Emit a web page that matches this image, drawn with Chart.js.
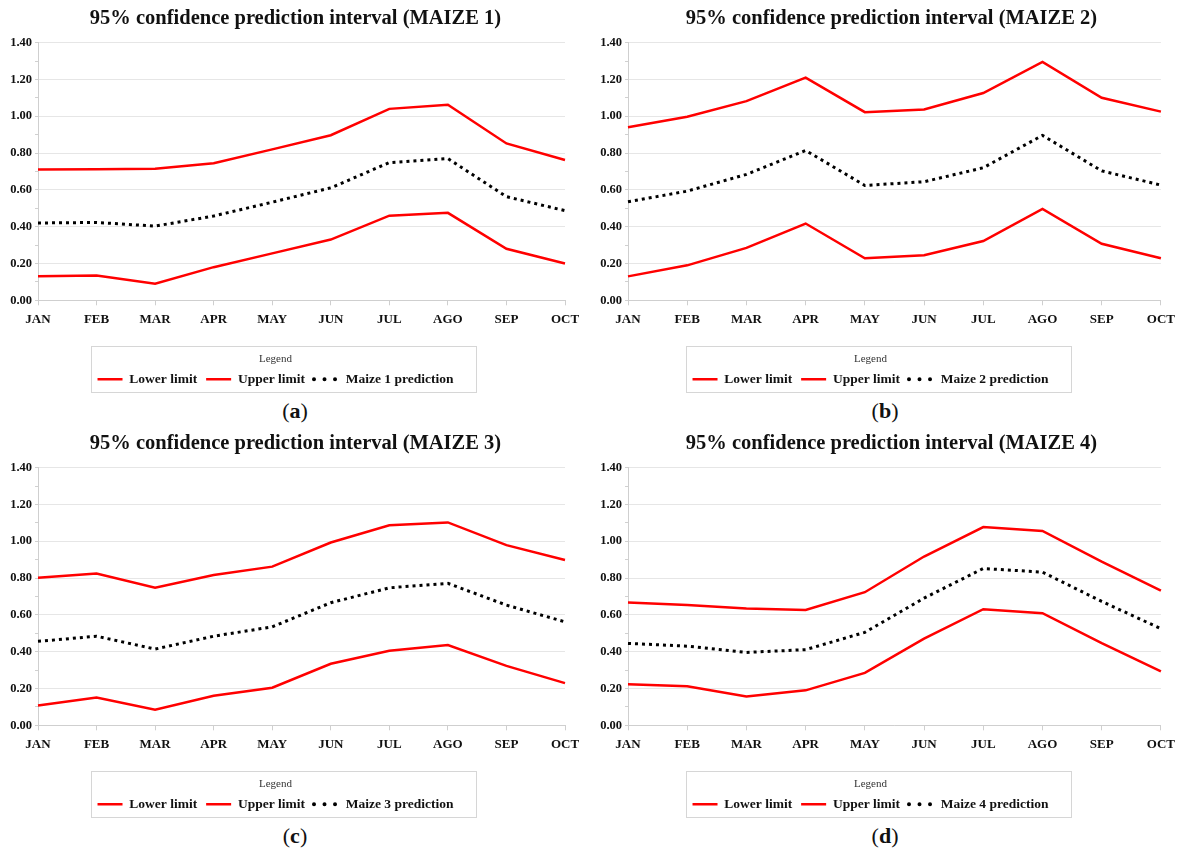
<!DOCTYPE html>
<html>
<head>
<meta charset="utf-8">
<script src="https://cdn.jsdelivr.net/npm/chart.js@4.4.1/dist/chart.umd.min.js"></script>
<style>
  html, body { margin: 0; padding: 0; background: #ffffff; }
  #page { position: relative; width: 1182px; height: 853px; overflow: hidden; }
  .panel { position: absolute; }
  .caption {
    position: absolute; width: 40px; text-align: center;
    font-family: "Liberation Serif", serif; font-size: 22px; color: #111;
  }
  .caption b { font-weight: bold; }
</style>
</head>
<body>
<div id="page">
  <div class="panel" style="left:0px;top:0px;width:591px;height:396px;"><canvas id="c1"></canvas></div>
  <div class="panel" style="left:590px;top:0px;width:592px;height:396px;"><canvas id="c2"></canvas></div>
  <div class="panel" style="left:0px;top:425px;width:591px;height:396px;"><canvas id="c3"></canvas></div>
  <div class="panel" style="left:590px;top:425px;width:592px;height:396px;"><canvas id="c4"></canvas></div>
  <div class="caption" style="left:275px;top:398px;">(<b>a</b>)</div>
  <div class="caption" style="left:865px;top:398px;">(<b>b</b>)</div>
  <div class="caption" style="left:275px;top:823px;">(<b>c</b>)</div>
  <div class="caption" style="left:865px;top:823px;">(<b>d</b>)</div>
</div>
<script>
// Months on the x axis
const months = ['JAN', 'FEB', 'MAR', 'APR', 'MAY', 'JUN', 'JUL', 'AGO', 'SEP', 'OCT'];

// MAIZE 1
const maize1Lower = [0.13, 0.135, 0.09, 0.18, 0.255, 0.33, 0.46, 0.475, 0.28, 0.20];
const maize1Upper = [0.71, 0.712, 0.715, 0.745, 0.82, 0.897, 1.04, 1.062, 0.852, 0.762];
const maize1Pred  = [0.42, 0.423, 0.403, 0.458, 0.533, 0.611, 0.748, 0.77, 0.563, 0.487];

// MAIZE 2
const maize2Lower = [0.13, 0.19, 0.285, 0.417, 0.228, 0.245, 0.322, 0.497, 0.307, 0.228];
const maize2Upper = [0.94, 0.997, 1.082, 1.21, 1.022, 1.037, 1.126, 1.295, 1.1, 1.025];
const maize2Pred  = [0.535, 0.593, 0.684, 0.814, 0.624, 0.644, 0.72, 0.896, 0.703, 0.626];

// MAIZE 3
const maize3Lower = [0.108, 0.151, 0.085, 0.161, 0.204, 0.334, 0.405, 0.436, 0.323, 0.229];
const maize3Upper = [0.801, 0.824, 0.747, 0.816, 0.862, 0.993, 1.087, 1.102, 0.979, 0.898];
const maize3Pred  = [0.456, 0.484, 0.414, 0.484, 0.535, 0.666, 0.747, 0.771, 0.653, 0.562];

// MAIZE 4
const maize4Lower = [0.223, 0.212, 0.156, 0.19, 0.285, 0.471, 0.631, 0.609, 0.446, 0.293];
const maize4Upper = [0.667, 0.653, 0.635, 0.627, 0.723, 0.917, 1.077, 1.056, 0.889, 0.731];
const maize4Pred  = [0.445, 0.43, 0.396, 0.411, 0.505, 0.691, 0.852, 0.832, 0.673, 0.525];

// Y axis range and tick step (labels every 0.20, minor ticks every 0.10)
const yMin = 0;
const yMax = 1.4;
const yStep = 0.1;

const serif = '"Liberation Serif", "Times New Roman", serif';

// Nudges the title and legend sideways after layout (title centred on the whole panel)
const shiftBlocks = {
  id: 'shiftBlocks',
  afterUpdate(chart, args, opts) {
    const t = chart.titleBlock;
    if (t && opts.title) { t.left += opts.title; t.right += opts.title; }
    const lg = chart.legend;
    if (lg && opts.legend) {
      lg.left += opts.legend; lg.right += opts.legend;
      (lg.legendHitBoxes || []).forEach(h => { h.left += opts.legend; });
    }
  }
};

// Frame drawn around the legend block (title + entries)
const legendFrame = {
  id: 'legendFrame',
  afterDraw(chart) {
    const lg = chart.legend;
    if (!lg || !lg.legendHitBoxes || !lg.legendHitBoxes.length) return;
    let minX = Infinity, maxX = -Infinity;
    lg.legendHitBoxes.forEach(h => {
      minX = Math.min(minX, h.left);
      maxX = Math.max(maxX, h.left + h.width);
    });
    const top = Math.round(lg.top + 18);
    const bottom = Math.round(lg.bottom - 4);
    const ctx = chart.ctx;
    ctx.save();
    ctx.strokeStyle = '#d6d6d6';
    ctx.lineWidth = 1;
    ctx.strokeRect(Math.round(minX - 7) + 0.5, top + 0.5,
                   Math.round(maxX - minX + 29), bottom - top);
    ctx.restore();
  }
};

// Legend entries: solid red strokes for the limits, a row of dots for the prediction
function legendLabels(chart) {
  const items = Chart.defaults.plugins.legend.labels.generateLabels(chart);
  items.forEach(it => {
    const ds = chart.data.datasets[it.datasetIndex];
    it.pointStyle = 'line';
    if (ds.borderDash && ds.borderDash.length) {
      it.lineDash = [0.01, 10.5];
      it.lineCap = 'round';
      it.lineWidth = 4;
    } else {
      it.lineDash = [];
      it.lineCap = 'butt';
      it.lineWidth = 2.5;
    }
  });
  return items;
}

function makeChart(id, name, lower, upper, pred, rightPad, titleShift, legendShift) {
  new Chart(document.getElementById(id), {
    type: 'line',
    data: {
      labels: months,
      datasets: [
        { label: 'Lower limit', data: lower, borderColor: '#ff0000', backgroundColor: '#ff0000',
          borderWidth: 2.5, pointRadius: 0, tension: 0 },
        { label: 'Upper limit', data: upper, borderColor: '#ff0000', backgroundColor: '#ff0000',
          borderWidth: 2.5, pointRadius: 0, tension: 0 },
        { label: name + ' prediction', data: pred, borderColor: '#000000', backgroundColor: '#000000',
          borderWidth: 3, borderDash: [3, 4], pointRadius: 0, tension: 0 }
      ]
    },
    options: {
      responsive: true,
      maintainAspectRatio: false,
      animation: false,
      events: [],
      layout: { padding: { left: 0, right: rightPad, top: 4, bottom: 0 } },
      plugins: {
        shiftBlocks: { title: titleShift, legend: legendShift },
        title: {
          display: true,
          text: '95% confidence prediction interval (' + name.toUpperCase() + ')',
          color: '#111',
          font: { family: serif, size: 20.5, weight: 'bold' },
          padding: { top: 2, bottom: 12 }
        },
        legend: {
          display: true,
          position: 'bottom',
          title: {
            display: true,
            text: 'Legend',
            color: '#333',
            font: { family: serif, size: 11, weight: 'normal' },
            padding: { top: 25, bottom: -3 }
          },
          labels: {
            usePointStyle: true,
            pointStyle: 'line',
            pointStyleWidth: 25,
            boxHeight: 10,
            padding: 9,
            color: '#111',
            font: { family: serif, size: 13.5, weight: 'bold' },
            generateLabels: legendLabels
          }
        },
        tooltip: { enabled: false }
      },
      scales: {
        x: {
          offset: false,
          afterFit(scale) { scale.height = 28; },
          border: { color: '#cfcfcf', width: 1 },
          grid: { drawOnChartArea: false, drawTicks: true, tickLength: 5, tickColor: '#cfcfcf' },
          ticks: { color: '#111', padding: 7, maxRotation: 0, autoSkip: false,
                   font: { family: serif, size: 13, weight: 'bold' } }
        },
        y: {
          min: yMin,
          max: yMax,
          afterFit(scale) {
            scale.width = 38;
            scale.paddingTop = 0;
            scale.paddingBottom = 0;
          },
          border: { color: '#cfcfcf', width: 1 },
          grid: {
            color: ctx => (ctx.index % 2 === 0 ? '#e6e6e6' : 'rgba(0,0,0,0)'),
            tickColor: '#d0d0d0',
            tickLength: 3
          },
          ticks: {
            stepSize: yStep,
            color: '#111',
            padding: 3,
            font: { family: serif, size: 12.5, weight: 'bold' },
            callback: (v, i) => (i % 2 === 0 ? Number(v).toFixed(2) : '')
          }
        }
      }
    },
    plugins: [shiftBlocks, legendFrame]
  });
}

makeChart('c1', 'Maize 1', maize1Lower, maize1Upper, maize1Pred, 26, 13, -7);
makeChart('c2', 'Maize 2', maize2Lower, maize2Upper, maize2Pred, 19, 15, -6);
makeChart('c3', 'Maize 3', maize3Lower, maize3Upper, maize3Pred, 26, 13, -7);
makeChart('c4', 'Maize 4', maize4Lower, maize4Upper, maize4Pred, 19, 15, -6);
</script>
</body>
</html>
